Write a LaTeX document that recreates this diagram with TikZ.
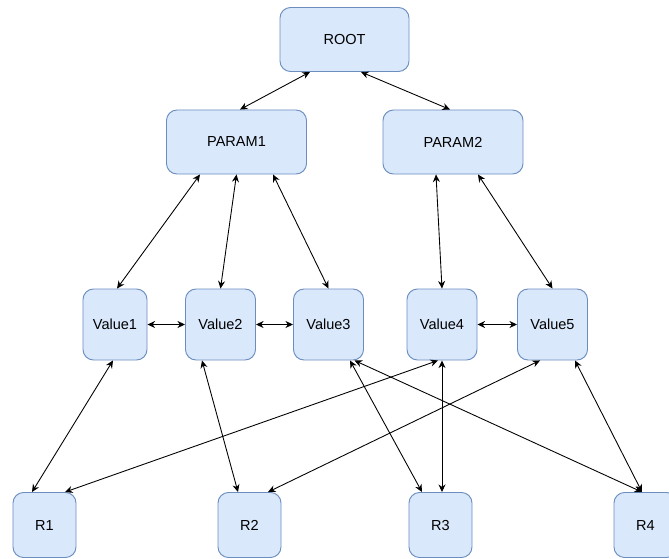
\documentclass[tikz,border=0pt]{standalone}
\usepackage{fontspec}
\setmainfont{Liberation Sans}
\usetikzlibrary{arrows.meta,positioning,calc}
\definecolor{boxfill}{HTML}{DAE8FC}
\definecolor{boxline}{HTML}{6C8EBF}
\tikzset{
  blk/.style={draw=boxline,fill=boxfill,rectangle,rounded corners=9pt,line width=0.8pt,align=center,font=\fontsize{12.4}{14}\selectfont},
  topblk/.style={blk,minimum width=3.87cm,minimum height=1.92cm},
  prmblk/.style={blk,minimum width=4.2cm,minimum height=1.92cm},
  valblk/.style={blk,minimum width=2.1cm,minimum height=2.13cm},
  resblk/.style={blk,minimum width=1.89cm,minimum height=1.95cm},
  arr/.style={{Stealth[length=6.5pt,width=6pt]}-{Stealth[length=6.5pt,width=6pt]},line width=0.75pt,black}
}
\begin{document}
\begin{tikzpicture}[x=0.03cm, y=-0.03cm]
  \useasboundingbox (0,0) rectangle (669,559);
  % Root and parameters
  \node[topblk] (root) at (344.5, 39.5) {ROOT};
  \node[prmblk] (prm1) at (236.5, 142) {PARAM1};
  \node[prmblk] (prm2) at (453, 142) {PARAM2};

  % Values
  \node[valblk, minimum width=1.92cm] (val1) at (115, 324.5) {Value1};
  \node[valblk] (val2) at (220.5, 324.5) {Value2};
  \node[valblk] (val3) at (328.5, 324.5) {Value3};
  \node[valblk] (val4) at (442, 324.5) {Value4};
  \node[valblk] (val5) at (552.5, 324.5) {Value5};

  % Results
  \node[resblk] (res1) at (44.5, 525) {R1};
  \node[resblk] (res2) at (249.5, 525) {R2};
  \node[resblk] (res3) at (440.5, 525) {R3};
  \node[resblk] (res4) at (645.5, 525) {R4};

  % Root to parameters
  \draw[arr] ($(root.south)+(-34.5,0)$) -- ($(prm1.north)+(3.5,0)$);
  \draw[arr] ($(root.south)+(16.5,0)$) -- ($(prm2.north)+(-3,0)$);

  % Parameters to values
  \draw[arr] ($(prm1.south)+(-36.5,0)$) -- ($(val1.north)+(2,0)$);
  \draw[arr] (prm1.south) -- (val2.north);
  \draw[arr] ($(prm1.south)+(36.5,0)$) -- (val3.north);
  \draw[arr] ($(prm2.south)+(-17,0)$) -- (val4.north);
  \draw[arr] ($(prm2.south)+(25,0)$) -- (val5.north);

  % Between values
  \foreach \s/\t in {val1/val2,val2/val3,val4/val5}
    \draw[arr] (\s.east) -- (\t.west);

  % Values to results
  \draw[arr] ($(val1.south)+(-2,0)$) -- ($(res1.north)+(-12.5,0)$);
  \draw[arr] ($(val2.south)+(-18.5,0)$) -- ($(res2.north)+(-11.5,0)$);
  \draw[arr] ($(val4.south)+(-4,0)$) -- ($(res1.north)+(20.5,0)$);
  \draw[arr] ($(val5.south)+(-12.5,0)$) -- ($(res2.north)+(18.5,0)$);
  \draw[arr] ($(val3.south)+(21.5,0)$) -- ($(res3.north)+(-18.5,0)$);
  \draw[arr] (val4.south) -- ($(res3.north)+(1.5,0)$);
  \draw[arr] ($(val3.south)+(26,0)$) -- ($(res4.north)+(-3.5,0)$);
  \draw[arr] ($(val5.south)+(22.5,0)$) -- ($(res4.north)+(-3.5,0)$);
\end{tikzpicture}
\end{document}
